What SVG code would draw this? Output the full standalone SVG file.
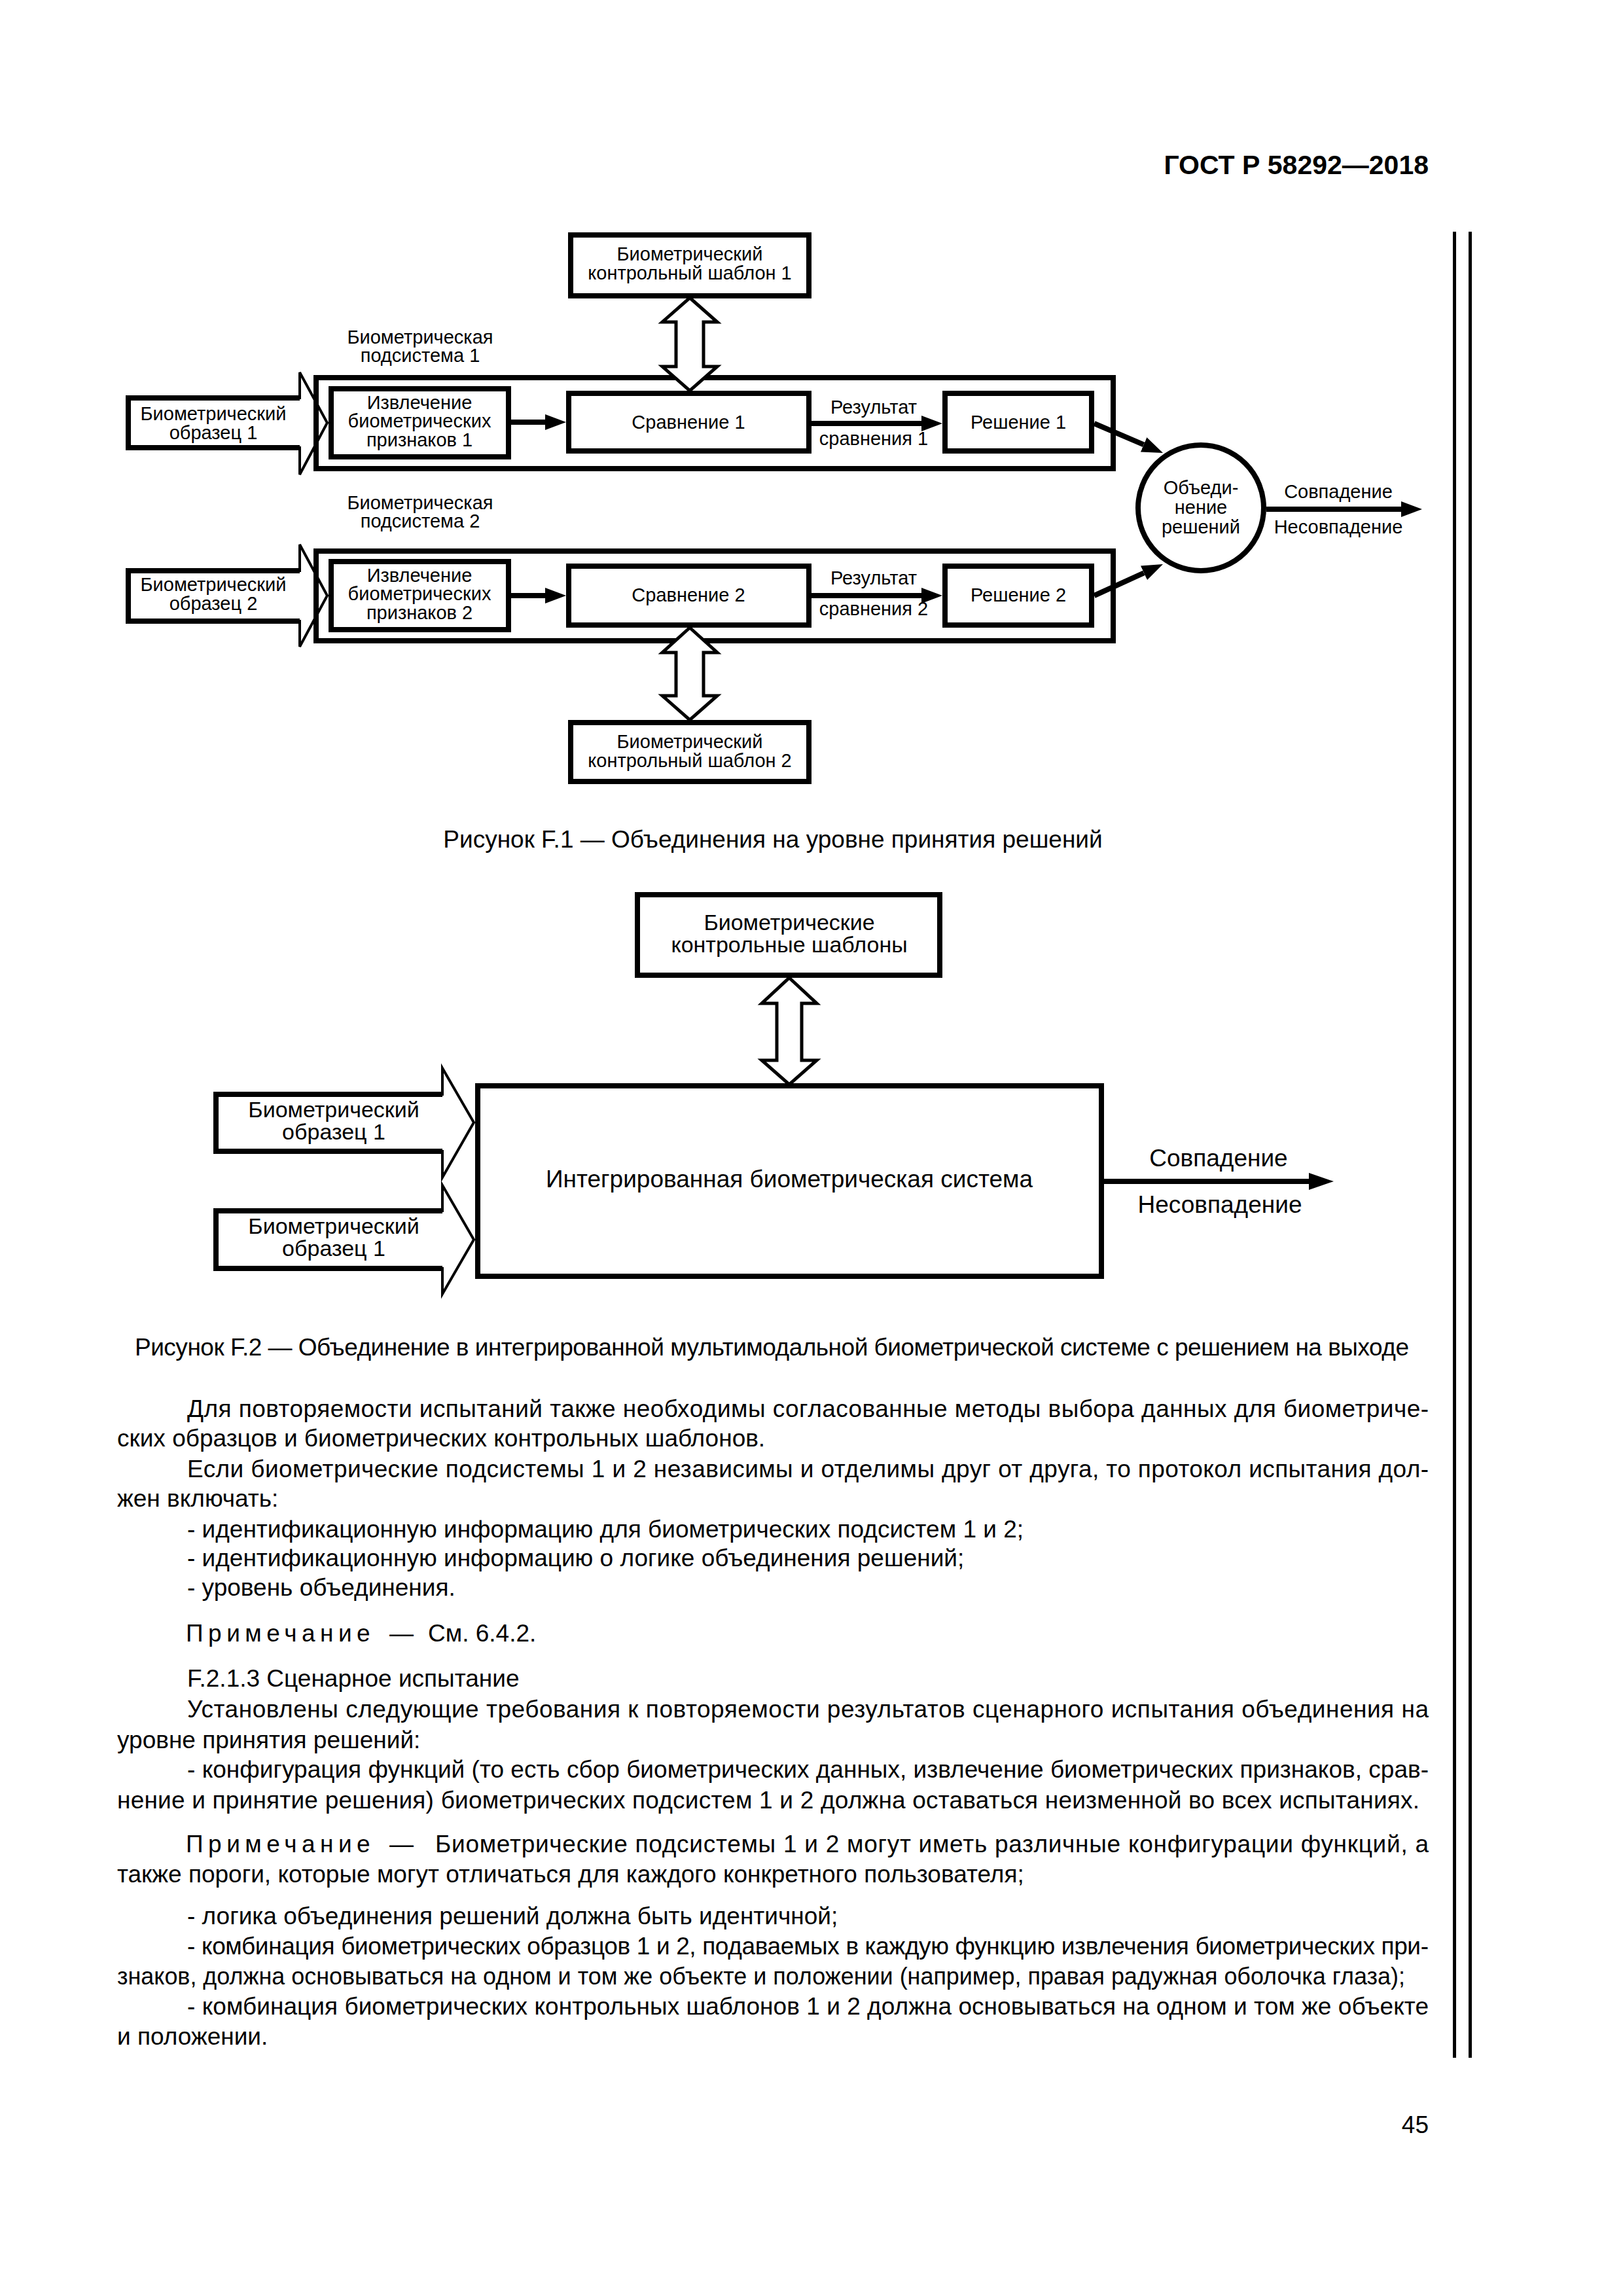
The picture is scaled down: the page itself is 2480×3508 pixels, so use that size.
<svg xmlns="http://www.w3.org/2000/svg" width="2480" height="3508" viewBox="0 0 2480 3508">
<style>
text{font-family:"Liberation Sans",Arial,sans-serif;fill:#000}
.b{fill:#fff;stroke:#000;stroke-width:8}
.o{fill:none;stroke:#000;stroke-width:8}
.da{fill:#fff;stroke:#000;stroke-width:5;stroke-linejoin:miter}
.ia{fill:#fff;stroke:#000;stroke-width:4}
.ib{fill:none;stroke:#000;stroke-width:8}
.c{fill:none;stroke:#000;stroke-width:8}
.t1{font-size:29px;text-anchor:middle}
.t2{font-size:34px;text-anchor:middle}
.t3{font-size:37px;text-anchor:middle}
.bd{font-size:37px}
.cap{font-size:37px;text-anchor:middle}
</style>
<defs>
<marker id="ah" markerUnits="userSpaceOnUse" markerWidth="32" markerHeight="24" refX="0" refY="12" orient="auto"><path d="M0,0 L32,12 L0,24 z" fill="#000"/></marker>
<marker id="ah2" markerUnits="userSpaceOnUse" markerWidth="38" markerHeight="26" refX="0" refY="13" orient="auto"><path d="M0,0 L38,13 L0,26 z" fill="#000"/></marker>
</defs>

<text x="2183" y="266" font-size="41" font-weight="bold" text-anchor="end">ГОСТ Р 58292—2018</text>
<g id="margin-lines"><rect x="2220" y="354" width="5" height="2790"/><rect x="2244" y="354" width="5" height="2790"/></g>

<!-- Figure F.1 -->
<g id="input1"><polygon class="ia" points="196,608 458,608 458,569 500,646 458,725 458,684 196,684"/><path class="ib" d="M458,608 H196 V684 H458"/><text class="t1" x="326" y="642">Биометрический</text><text class="t1" x="326" y="671">образец 1</text></g>
<g id="input2"><polygon class="ia" points="196,872 458,872 458,832 500,910 458,988 458,949 196,949"/><path class="ib" d="M458,872 H196 V949 H458"/><text class="t1" x="326" y="903">Биометрический</text><text class="t1" x="326" y="932">образец 2</text></g>

<g id="subsystem1"><rect class="o" x="483" y="577" width="1218" height="139"/><text class="t1" x="642" y="525">Биометрическая</text><text class="t1" x="642" y="553">подсистема 1</text></g>
<g id="subsystem2"><rect class="o" x="483" y="842" width="1218" height="137"/><text class="t1" x="642" y="778">Биометрическая</text><text class="t1" x="642" y="806">подсистема 2</text></g>

<g id="template1"><rect class="b" x="872" y="359" width="364" height="93"/><text class="t1" x="1054" y="398">Биометрический</text><text class="t1" x="1054" y="427">контрольный шаблон 1</text></g>
<g id="template2"><rect class="b" x="872" y="1104" width="364" height="90"/><text class="t1" x="1054" y="1143">Биометрический</text><text class="t1" x="1054" y="1172">контрольный шаблон 2</text></g>

<g id="extract1"><rect class="b" x="506" y="594" width="271" height="104"/><text class="t1" x="641" y="625">Извлечение</text><text class="t1" x="641" y="653">биометрических</text><text class="t1" x="641" y="682">признаков 1</text></g>
<g id="extract2"><rect class="b" x="506" y="858" width="271" height="104"/><text class="t1" x="641" y="889">Извлечение</text><text class="t1" x="641" y="917">биометрических</text><text class="t1" x="641" y="946">признаков 2</text></g>

<g id="compare1"><rect class="b" x="869" y="601" width="367" height="88"/><text class="t1" x="1052" y="655">Сравнение 1</text></g>
<g id="compare2"><rect class="b" x="869" y="865" width="367" height="90"/><text class="t1" x="1052" y="919">Сравнение 2</text></g>

<g id="decision1"><rect class="b" x="1444" y="601" width="224" height="88"/><text class="t1" x="1556" y="655">Решение 1</text></g>
<g id="decision2"><rect class="b" x="1444" y="865" width="224" height="90"/><text class="t1" x="1556" y="919">Решение 2</text></g>

<g id="fusion"><circle class="b" cx="1835" cy="776" r="96"/><text class="t1" x="1835" y="755">Объеди-</text><text class="t1" x="1835" y="785">нение</text><text class="t1" x="1835" y="815">решений</text></g>

<g id="connectors-f1">
<polygon class="da" points="1054,455 1096,492 1075,492 1075,560 1096,560 1054,597 1012,560 1033,560 1033,492 1012,492"/>
<polygon class="da" points="1054,959 1096,997 1075,997 1075,1063 1096,1063 1054,1100 1012,1063 1033,1063 1033,997 1012,997"/>
<path class="c" d="M781,645 H833" marker-end="url(#ah)"/>
<path class="c" d="M781,910 H833" marker-end="url(#ah)"/>
<path class="c" d="M1240,647 H1408" marker-end="url(#ah)"/>
<path class="c" d="M1240,910 H1408" marker-end="url(#ah)"/>
<path class="c" d="M1672,647 L1747.6,679.4" marker-end="url(#ah)"/>
<path class="c" d="M1672,910 L1747.9,875.3" marker-end="url(#ah)"/>
<path class="c" d="M1935,778 H2141" marker-end="url(#ah)"/>
<text class="t1" x="1335" y="632">Результат</text><text class="t1" x="1335" y="680">сравнения 1</text>
<text class="t1" x="1335" y="893">Результат</text><text class="t1" x="1335" y="940">сравнения 2</text>
<text class="t1" x="2045" y="761">Совпадение</text><text class="t1" x="2045" y="815">Несовпадение</text>
</g>
<text class="cap" x="1181" y="1295">Рисунок F.1 — Объединения на уровне принятия решений</text>

<!-- Figure F.2 -->
<g id="templates"><rect class="b" x="974" y="1367" width="462" height="123"/><text class="t2" x="1206" y="1421">Биометрические</text><text class="t2" x="1206" y="1455">контрольные шаблоны</text></g>
<g id="system"><rect class="b" x="730" y="1659" width="953" height="291"/><text class="t3" x="1206" y="1814">Интегрированная биометрическая система</text></g>
<g id="sample1"><polygon class="ia" points="330,1672 676,1672 676,1632 724,1715 676,1799 676,1759 330,1759"/><path class="ib" d="M676,1672 H330 V1759 H676"/><text class="t2" x="510" y="1707">Биометрический</text><text class="t2" x="510" y="1741">образец 1</text></g>
<g id="sample2"><polygon class="ia" points="330,1850 676,1850 676,1811 724,1894 676,1977 676,1938 330,1938"/><path class="ib" d="M676,1850 H330 V1938 H676"/><text class="t2" x="510" y="1885">Биометрический</text><text class="t2" x="510" y="1919">образец 1</text></g>
<g id="connectors-f2">
<polygon class="da" points="1206,1494 1248,1533 1225,1533 1225,1620 1248,1620 1206,1657 1164,1620 1187,1620 1187,1533 1164,1533"/>
<path class="c" d="M1687,1805 H2000" marker-end="url(#ah2)"/>
<text class="t3" x="1862" y="1782">Совпадение</text><text class="t3" x="1864" y="1853">Несовпадение</text>
</g>
<text class="bd" x="206" y="2071" textLength="1947" lengthAdjust="spacing">Рисунок F.2 — Объединение в интегрированной мультимодальной биометрической системе с решением на выходе</text>

<!-- Body text -->
<g id="body" class="bd">
<text class="bd" x="286" y="2165" textLength="1897" lengthAdjust="spacing">Для повторяемости испытаний также необходимы согласованные методы выбора данных для биометриче-</text>
<text class="bd" x="179" y="2210">ских образцов и биометрических контрольных шаблонов.</text>
<text class="bd" x="286" y="2257" textLength="1897" lengthAdjust="spacing">Если биометрические подсистемы 1 и 2 независимы и отделимы друг от друга, то протокол испытания дол-</text>
<text class="bd" x="179" y="2302">жен включать:</text>
<text class="bd" x="286" y="2349">- идентификационную информацию для биометрических подсистем 1 и 2;</text>
<text class="bd" x="286" y="2393">- идентификационную информацию о логике объединения решений;</text>
<text class="bd" x="286" y="2438">- уровень объединения.</text>
<text class="bd" x="284" y="2508" letter-spacing="7.5">Примечание</text>
<text class="bd" x="595" y="2508">—</text>
<text class="bd" x="654" y="2508">См. 6.4.2.</text>
<text class="bd" x="286" y="2577">F.2.1.3 Сценарное испытание</text>
<text class="bd" x="286" y="2624" textLength="1897" lengthAdjust="spacing">Установлены следующие требования к повторяемости результатов сценарного испытания объединения на</text>
<text class="bd" x="179" y="2671">уровне принятия решений:</text>
<text class="bd" x="286" y="2716" textLength="1897" lengthAdjust="spacing">- конфигурация функций (то есть сбор биометрических данных, извлечение биометрических признаков, срав-</text>
<text class="bd" x="179" y="2763" textLength="1990" lengthAdjust="spacing">нение и принятие решения) биометрических подсистем 1 и 2 должна оставаться неизменной во всех испытаниях.</text>
<text class="bd" x="284" y="2830" letter-spacing="7.5">Примечание</text>
<text class="bd" x="595" y="2830">—</text>
<text class="bd" x="665" y="2830" textLength="1518" lengthAdjust="spacing">Биометрические подсистемы 1 и 2 могут иметь различные конфигурации функций, а</text>
<text class="bd" x="179" y="2876">также пороги, которые могут отличаться для каждого конкретного пользователя;</text>
<text class="bd" x="286" y="2940">- логика объединения решений должна быть идентичной;</text>
<text class="bd" x="286" y="2986" textLength="1897" lengthAdjust="spacing">- комбинация биометрических образцов 1 и 2, подаваемых в каждую функцию извлечения биометрических при-</text>
<text class="bd" x="179" y="3032" textLength="1968" lengthAdjust="spacingAndGlyphs">знаков, должна основываться на одном и том же объекте и положении (например, правая радужная оболочка глаза);</text>
<text class="bd" x="286" y="3078" textLength="1897" lengthAdjust="spacing">- комбинация биометрических контрольных шаблонов 1 и 2 должна основываться на одном и том же объекте</text>
<text class="bd" x="179" y="3124">и положении.</text>
<text class="bd" x="2183" y="3259" text-anchor="end">45</text>
</g>
</svg>
